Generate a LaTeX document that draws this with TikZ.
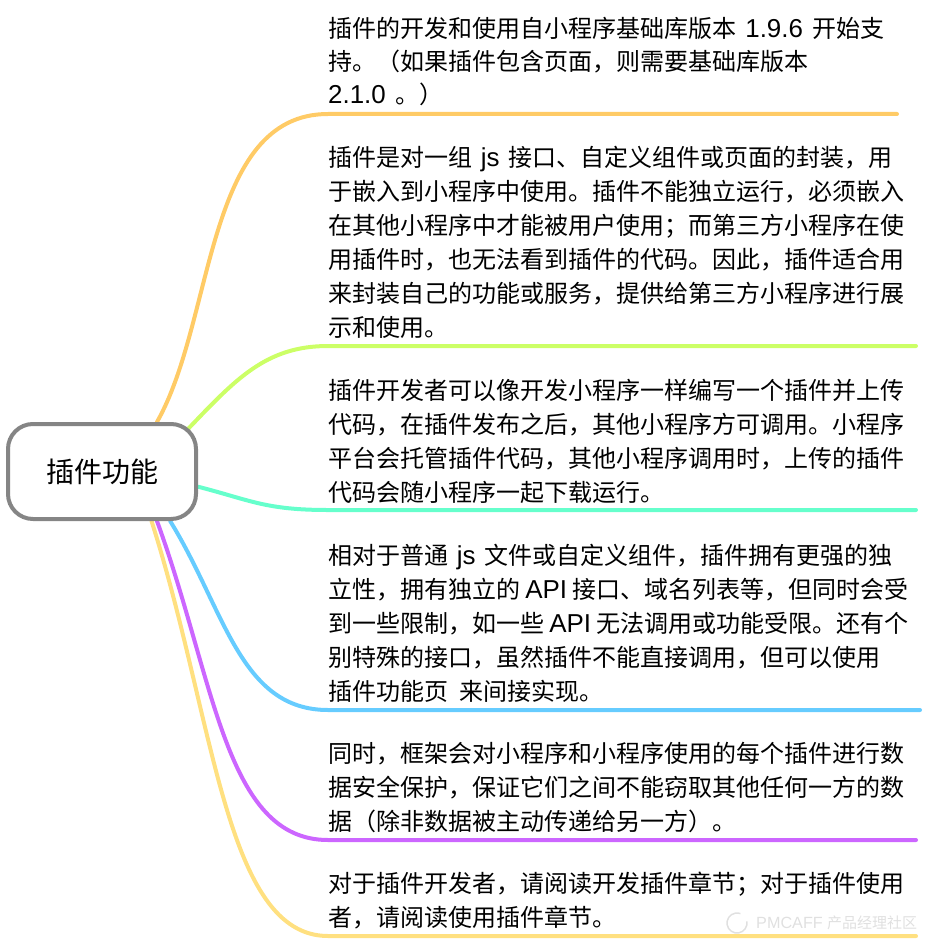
\documentclass[tikz,border=0pt]{standalone}
\usepackage{fontspec}
\setmainfont{Noto Sans CJK SC}
\newfontfamily\lat[Scale=1.08]{Liberation Sans}
\newcommand{\latc}[2]{\makebox[#1][c]{\lat #2}}
\newcommand{\latl}[2]{\makebox[#1][l]{\lat #2}}
\usetikzlibrary{backgrounds}
\definecolor{cOrange}{HTML}{FFCB66}
\definecolor{cGreen}{HTML}{CCFF66}
\definecolor{cTeal}{HTML}{66FFCC}
\definecolor{cBlue}{HTML}{66CCFF}
\definecolor{cPurple}{HTML}{CC66FF}
\definecolor{cYellow}{HTML}{FFE080}
\tikzset{
  hubbox/.style={draw=black!48,line width=4pt,fill=white,rounded corners=25pt,minimum width=188pt,minimum height=95pt,inner sep=0pt,font=\fontsize{28}{30}\selectfont},
  para/.style={anchor=north west,align=left,inner sep=0pt,font=\fontsize{24}{34}\selectfont},
  paratight/.style={para,font=\fontsize{24}{33}\selectfont},
  branch/.style={line width=4pt,line cap=round},
  mark text/.style={anchor=west,inner sep=0pt,text=black!12,font=\fontsize{15}{16}\selectfont}
}
\begin{document}
\begin{tikzpicture}[x=1pt,y=-1pt]
\useasboundingbox (0,0) rectangle (928,944);
\node[hubbox] (hub) at (102,471.5) {\raisebox{-1pt}{插件功能}};
\node[paratight] (p1) at (328,17) {插件的开发和使用自小程序基础库版本\latc{76pt}{1.9.6}开始支\\持。（如果插件包含页面，则需要基础库版本\\\latl{67pt}{2.1.0}。）};
\node[para] (p2) at (328,146) {插件是对一组\latc{36pt}{js}接口、自定义组件或页面的封装，用\\于嵌入到小程序中使用。插件不能独立运行，必须嵌入\\在其他小程序中才能被用户使用；而第三方小程序在使\\用插件时，也无法看到插件的代码。因此，插件适合用\\来封装自己的功能或服务，提供给第三方小程序进行展\\示和使用。};
\node[para] (p3) at (328,379) {插件开发者可以像开发小程序一样编写一个插件并上传\\代码，在插件发布之后，其他小程序方可调用。小程序\\平台会托管插件代码，其他小程序调用时，上传的插件\\代码会随小程序一起下载运行。};
\node[para] (p4) at (328,544) {相对于普通\latc{36pt}{js}文件或自定义组件，插件拥有更强的独\\立性，拥有独立的\latc{52pt}{API}接口、域名列表等，但同时会受\\到一些限制，如一些\latc{52pt}{API}无法调用或功能受限。还有个\\别特殊的接口，虽然插件不能直接调用，但可以使用\\插件功能页\hspace{11pt}来间接实现。};
\node[para] (p5) at (328,742) {同时，框架会对小程序和小程序使用的每个插件进行数\\据安全保护，保证它们之间不能窃取其他任何一方的数\\据（除非数据被主动传递给另一方）。};
\node[para] (p6) at (328,872) {对于插件开发者，请阅读开发插件章节；对于插件使用\\者，请阅读使用插件章节。};
\coordinate (e1a) at (328,114); \coordinate (e1b) at (897,114);
\coordinate (e2a) at (328,346); \coordinate (e2b) at (916,346);
\coordinate (e3a) at (328,510); \coordinate (e3b) at (916,510);
\coordinate (e4a) at (328,710); \coordinate (e4b) at (920,710);
\coordinate (e5a) at (328,840); \coordinate (e5b) at (916,840);
\coordinate (e6a) at (328,936); \coordinate (e6b) at (916,936);
\begin{scope}[on background layer]
\draw[branch,cOrange] (hub.42) .. controls (215,320) and (205,114) .. (e1a) -- (e1b);
\draw[branch,cGreen] ([xshift=-10pt,yshift=-10pt]hub.28) .. controls (235,380) and (265,346) .. (e2a) -- (e2b);
\draw[branch,cTeal] (hub.-9) .. controls (250,500) and (265,510) .. (e3a) -- (e3b);
\draw[branch,cBlue] (hub.-36) .. controls (225,610) and (240,710) .. (e4a) -- (e4b);
\draw[branch,cPurple] (hub.-42) .. controls (215,680) and (225,840) .. (e5a) -- (e5b);
\draw[branch,cYellow] (hub.-45) .. controls (215,720) and (225,936) .. (e6a) -- (e6b);
\end{scope}
\draw[black!12,line width=1.5pt] (737,923) ++(-10:10) arc (-10:290:10);
\node[mark text] (wm) at (756,923) {\makebox[71pt][l]{\lat\fontsize{15}{16}\selectfont PMCAFF}产品经理社区};
\end{tikzpicture}
\end{document}
